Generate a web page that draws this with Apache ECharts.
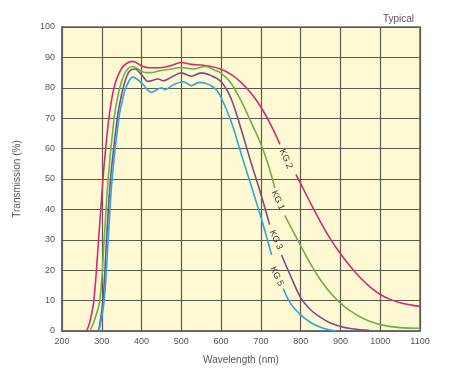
<!DOCTYPE html>
<html><head><meta charset="utf-8">
<script src="https://cdn.jsdelivr.net/npm/echarts@6/dist/echarts.min.js"></script>
<style>html,body{margin:0;padding:0;background:#fff}#c{width:461px;height:379px}</style>
</head><body><div id="c"></div>
<script>
var xTicks = [200,300,400,500,600,700,800,900,1000,1100];
var yTicks = [0,10,20,30,40,50,60,70,80,90,100];
var seriesNames = ['KG 2','KG 1','KG 3','KG 5'];
var kg2 = [[262,0],[270,3],[280,10],[292,30],[303,50],[312,63],[318,70],[326,77],[335,82],[348,86],[362,88],[378,88.7],[400,87.2],[420,86.6],[445,86.6],[470,87.2],[500,88.3],[525,87.7],[550,87.5],[575,87.0],[600,86.1],[625,84.4],[650,81.8],[675,78.3],[700,73.7],[725,67.8],[748,61.4],null,[788,51.5],[800,48.5],[825,42],[850,35.8],[875,30.2],[900,25.4],[925,21.2],[950,17.5],[975,14.4],[1000,12.0],[1025,10.4],[1050,9.3],[1075,8.6],[1100,8.1]];
var kg1 = [[270,0],[280,3],[295,10],[306,30],[316,50],[331,70],[340,77],[352,83],[365,86.2],[378,87],[400,85.4],[420,85],[450,85.7],[475,86.2],[500,86.7],[530,86.2],[560,87],[584,85.8],[600,84.8],[625,81.5],[650,75.8],[675,68.8],[700,61.5],[720,54],[735,47],null,[760,38],[780,33],[800,28],[825,22],[850,16.8],[875,12.5],[900,9.2],[925,6.6],[950,4.6],[975,3.1],[1000,2.1],[1050,1.1],[1100,0.9]];
var kg3 = [[292,0],[303,10],[312,30],[322,50],[339,70],[347,76],[358,82],[370,85.5],[383,86.2],[400,84.3],[417,82.1],[442,82.9],[454,82.3],[475,83.5],[500,84.9],[525,83.8],[550,84.9],[575,84],[600,82],[625,76.5],[650,66.5],[675,55.5],[700,45],[722,35],null,[752,25],[775,18],[800,11],[825,7],[850,4.5],[875,2.6],[900,1.5],[925,0.8],[950,0.4],[972,0.2]];
var kg5 = [[293,0],[306,10],[316,30],[326,50],[343,70],[352,76],[362,80.5],[378,83.5],[400,81.6],[425,78.5],[450,80],[458,79.4],[480,81],[505,82],[525,80.7],[545,81.8],[560,81.5],[577,80.5],[590,79],[600,76.8],[625,69],[650,58.5],[675,48],[700,37.5],[727,25],null,[756,14],[775,9],[800,5.3],[825,2.8],[850,1.2],[875,0.3],[889,0]];
var labelSpots = [[763,56.6],[743,43],[738,30],[740,18]];
var colors = ['#d42a6f','#6cb144','#7c4a8f','#2aa8dc'];
var allData = [kg2,kg1,kg3,kg5];

var chart = echarts.init(document.getElementById('c'));
var font = 'Liberation Sans, Arial, sans-serif';
chart.setOption({
  animation:false,
  title:{text:'Typical',right:42,top:9,textStyle:{fontSize:10,fontWeight:'normal',color:'#555',fontFamily:font}},
  grid:{left:62,right:41,top:27,bottom:48,show:true,backgroundColor:'#fff9d3',borderColor:'#666',borderWidth:1.5},
  xAxis:{type:'value',min:200,max:1100,interval:100,
    name:'Wavelength (nm)',nameLocation:'middle',nameGap:24,
    nameTextStyle:{fontSize:10,color:'#555',fontFamily:font},
    axisLine:{show:true,lineStyle:{color:'#666',width:1.5}},axisTick:{show:false},
    axisLabel:{fontSize:9,color:'#555',margin:6,fontFamily:font,formatter:function(v){return String(v);}},
    splitLine:{show:true,lineStyle:{color:'#5a5a50',width:1.2}}},
  yAxis:{type:'value',min:0,max:100,interval:10,
    name:'Transmission (%)',nameLocation:'middle',nameGap:40,
    nameTextStyle:{fontSize:10,color:'#555',fontFamily:font},
    axisLine:{show:true,lineStyle:{color:'#666',width:1.5}},axisTick:{show:false},
    axisLabel:{fontSize:9,color:'#555',margin:7,fontFamily:font,formatter:function(v){return String(v);}},
    splitLine:{show:true,lineStyle:{color:'#5a5a50',width:1.2}}},
  series: allData.map(function(d,i){
    return {type:'line',name:seriesNames[i],data:d,smooth:0.35,showSymbol:false,connectNulls:false,
      lineStyle:{color:colors[i],width:1.6},itemStyle:{color:colors[i]},z:3+i,
      markPoint:{symbol:'circle',symbolSize:0,silent:true,
        data:[{coord:labelSpots[i],label:{show:true,formatter:seriesNames[i],rotate:-66,fontSize:9,color:'#333',fontFamily:font,position:'inside'}}]}};
  })
});
</script></body></html>
